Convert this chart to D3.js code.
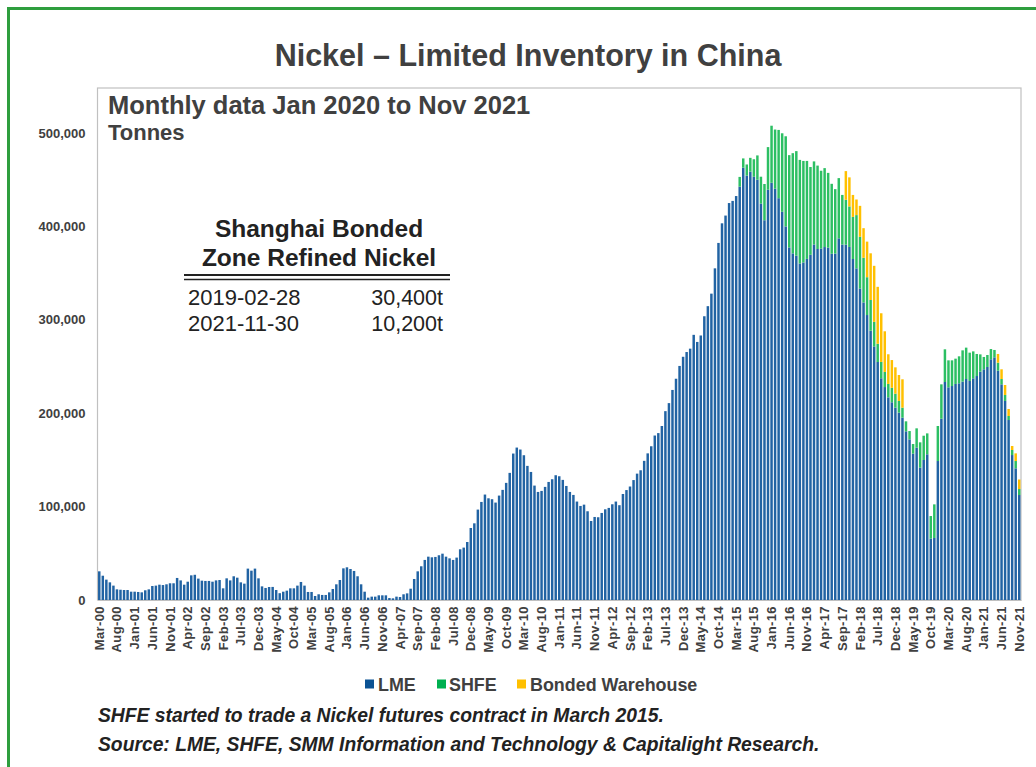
<!DOCTYPE html>
<html><head><meta charset="utf-8">
<script src="https://cdn.jsdelivr.net/npm/d3@7"></script>
<style>
body{margin:0;background:#fff}
svg{display:block}
text{font-family:"Liberation Sans",Arial,sans-serif}
</style>
</head><body>
<svg id="chart" width="1036" height="767"></svg>
<script>
// ---- categories: monthly, Mar-2000 .. Nov-2021 ----
const firstMonth = new Date(2000, 2, 1);
const endMonth = new Date(2021, 11, 1);
const categories = d3.timeMonth.range(firstMonth, endMonth).map(d3.timeFormat("%b-%y"));

const tickLabels = ["Mar-00","Aug-00","Jan-01","Jun-01","Nov-01","Apr-02","Sep-02","Feb-03","Jul-03","Dec-03",
"May-04","Oct-04","Mar-05","Aug-05","Jan-06","Jun-06","Nov-06","Apr-07","Sep-07","Feb-08","Jul-08","Dec-08",
"May-09","Oct-09","Mar-10","Aug-10","Jan-11","Jun-11","Nov-11","Apr-12","Sep-12","Feb-13","Jul-13","Dec-13",
"May-14","Oct-14","Mar-15","Aug-15","Jan-16","Jun-16","Nov-16","Apr-17","Sep-17","Feb-18","Jul-18","Dec-18",
"May-19","Oct-19","Mar-20","Aug-20","Jan-21","Jun-21","Nov-21"];

const yTicks = [0, 100000, 200000, 300000, 400000, 500000];

// LME stocks, tonnes (Mar-00 .. Nov-21)
const lme = [
30700,26000,21800,18900,15400,11400,11000,10700,10700,8900,8900,8600,8200,10400,11400,15000,15400,16400,16000,16800,
17900,17900,23600,21000,16400,19600,26400,27000,22900,20700,20400,20400,19600,21000,21400,12500,23200,21000,25400,23900,
18900,17500,33600,31400,33600,23200,14600,12900,13900,14000,10700,7300,8900,10000,12500,12500,15400,19300,15400,8600,
8600,4300,6100,5400,5400,8200,11800,16800,21400,33900,35000,33200,31100,25400,16800,8900,2500,3600,3600,5000,
5000,5000,2100,1800,3600,3200,6100,7100,12100,22500,30700,36100,42900,46400,45700,46100,47900,49600,46400,44600,
42900,45400,54300,56100,62100,77100,82100,96800,105000,112900,108900,107900,104300,111800,117900,125400,136100,156800,163200,161100,
155000,143600,137100,122500,115700,116800,121100,126400,129300,133600,132500,128600,122100,115700,112500,105400,100700,102100,95000,84600,
88900,88600,93200,97100,98600,102500,105400,101500,113500,117700,121500,128400,135300,138900,149000,157000,164600,176100,178700,186300,
202200,210800,224900,236900,250600,260400,265500,269100,283900,276300,283200,303800,314600,328000,355100,382300,403300,411600,425000,427300,
432500,442600,462900,454400,458600,453200,450000,424400,406600,439300,446700,440400,430200,415600,400000,377500,371100,368600,360300,361400,
365200,369600,380600,375800,376300,377900,377200,370700,370900,387200,380600,380400,378000,365100,355100,333500,318600,305100,288300,271500,
254800,237400,228000,217000,211700,205900,200600,195200,180600,172000,156700,163100,141700,149900,156000,65700,66400,148800,194100,233400,
227700,229100,231300,232000,233800,236600,234500,237300,239800,244500,247000,249500,257700,259800,245500,230900,213100,192700,155200,141000,
112400];

// SHFE stocks, tonnes, from Apr-15
const shfeFrom = "Apr-15";
const shfe = [
10400,9900,11900,14800,18700,26000,28800,38800,45600,61100,63300,73100,84100,96500,98800,107300,112000,110900,108700,104900,
94000,89000,89300,83300,84500,80100,74900,69000,64500,53100,48100,43400,45100,57000,55400,47800,40500,32900,26300,19500,
17500,16200,14300,15500,15000,12500,10700,10700,8900,10300,20700,27100,26000,22400,24200,36000,37500,36800,35000,28900,
27500,27100,28900,33500,33600,30300,28900,23600,18500,13200,12800,11000,7900,8600,5700,6400,4300,5400,7800,6400];

// Shanghai bonded warehouse stocks, tonnes, from Oct-17
const bondedFrom = "Oct-17";
const bonded = [
30700,31100,23500,16700,33100,31700,38100,50000,60000,61000,52100,43500,31800,29700,28200,27800,30400,0,0,0,
0,0,0,0,0,0,0,0,0,0,0,0,0,0,0,0,0,0,0,0,
0,0,0,9300,10400,10700,7500,4300,8200,10200];

const seriesNames = ["LME", "SHFE", "Bonded Warehouse"];
const colors = ["#0b5394", "#00b050", "#ffc000"];
const barColors = ["#2163a3", "#2cbf63", "#ffc000"];

const tableRows = [["2019-02-28", "30,400t"], ["2021-11-30", "10,200t"]];

// ---- build table ----
const iShfe = categories.indexOf(shfeFrom);
const iBond = categories.indexOf(bondedFrom);
const rows = categories.map((c, i) => ({
  month: c,
  "LME": lme[i] || 0,
  "SHFE": i >= iShfe ? (shfe[i - iShfe] || 0) : 0,
  "Bonded Warehouse": i >= iBond ? (bonded[i - iBond] || 0) : 0
}));
const stacked = d3.stack().keys(seriesNames)(rows);

const svg = d3.select("#chart");
const grey = "#404040";

// outer green frame
svg.append("rect").attr("x", 8.5).attr("y", 8.5).attr("width", 1100).attr("height", 900)
  .attr("fill", "none").attr("stroke", "#2e9e3e").attr("stroke-width", 3);

// title
svg.append("text").attr("x", 528).attr("y", 66).attr("text-anchor", "middle")
  .attr("font-size", 30.5).attr("font-weight", "bold").attr("fill", grey)
  .text("Nickel \u2013 Limited Inventory in China");

const pLeft = 97.5, pRight = 1021, pTop = 88, pBottom = 600;
const x = d3.scaleBand().domain(categories).range([pLeft, pRight]).paddingInner(0.3).paddingOuter(0.15);
const y = d3.scaleLinear().domain([0, 500000]).range([pBottom, 133]);

// plot box
svg.append("rect").attr("x", pLeft).attr("y", pTop).attr("width", pRight - pLeft).attr("height", pBottom - pTop)
  .attr("fill", "none").attr("stroke", "#c0c0c0").attr("stroke-width", 1.2);

// bars
svg.append("g").selectAll("g").data(stacked).join("g")
  .attr("fill", (d, i) => barColors[i])
  .selectAll("rect").data(d => d.filter(p => p[1] > p[0])).join("rect")
  .attr("x", d => x(d.data.month))
  .attr("width", x.bandwidth())
  .attr("y", d => y(d[1]))
  .attr("height", d => y(d[0]) - y(d[1]));

// y axis
const ya = svg.append("g").attr("transform", `translate(${pLeft},0)`)
  .call(d3.axisLeft(y).tickValues(yTicks).tickFormat(d3.format(",")).tickSize(0).tickPadding(12));
ya.select(".domain").remove();
ya.selectAll("text").attr("font-size", 13).attr("font-weight", "bold").attr("fill", grey)
  .attr("font-family", "'Liberation Sans',Arial,sans-serif");

// x axis
const xa = svg.append("g").attr("transform", `translate(0,${pBottom})`)
  .call(d3.axisBottom(x).tickValues(tickLabels).tickSize(0));
xa.select(".domain").attr("stroke", "#c0c0c0");
xa.selectAll("text").attr("font-size", 13).attr("font-weight", "bold").attr("fill", grey)
  .attr("letter-spacing", 0.4)
  .attr("font-family", "'Liberation Sans',Arial,sans-serif")
  .attr("text-anchor", "end").attr("dy", null).attr("dx", null)
  .attr("transform", "translate(0,6) rotate(-90)").attr("x", 0).attr("y", 4.5);

// subtitle
svg.append("text").attr("x", 108).attr("y", 114).attr("font-size", 25.5).attr("font-weight", "bold")
  .attr("fill", grey).text("Monthly data Jan 2020 to Nov 2021");
svg.append("text").attr("x", 108).attr("y", 140).attr("font-size", 22).attr("font-weight", "bold")
  .attr("fill", grey).text("Tonnes");

// inset table
const tg = svg.append("g");
tg.append("text").attr("x", 319).attr("y", 237).attr("text-anchor", "middle").attr("font-size", 24.5)
  .attr("font-weight", "bold").attr("fill", "#222").text("Shanghai Bonded");
tg.append("text").attr("x", 319).attr("y", 266).attr("text-anchor", "middle").attr("font-size", 24.5)
  .attr("font-weight", "bold").attr("fill", "#222").text("Zone Refined Nickel");
tg.append("line").attr("x1", 184).attr("x2", 450).attr("y1", 275).attr("y2", 275).attr("stroke", "#222").attr("stroke-width", 2);
tg.append("line").attr("x1", 184).attr("x2", 450).attr("y1", 279.5).attr("y2", 279.5).attr("stroke", "#222").attr("stroke-width", 1.5);
tableRows.forEach((r, i) => {
  tg.append("text").attr("x", 188).attr("y", 305 + i * 26).attr("font-size", 22).attr("fill", "#222").text(r[0]);
  tg.append("text").attr("x", 443).attr("y", 305 + i * 26).attr("text-anchor", "end").attr("font-size", 21.5).attr("fill", "#222").text(r[1]);
});

// legend
const legendSq = [365, 437, 517];
const legendTx = [378, 449, 530];
const lg = svg.append("g");
seriesNames.forEach((s, i) => {
  lg.append("rect").attr("x", legendSq[i]).attr("y", 679.5).attr("width", 9).attr("height", 9).attr("fill", colors[i]);
  lg.append("text").attr("x", legendTx[i]).attr("y", 690.5).attr("font-size", 17.9).attr("font-weight", "bold")
    .attr("fill", grey).text(s);
});

// notes
svg.append("text").attr("x", 98).attr("y", 722).attr("font-size", 19.3).attr("font-weight", "bold")
  .attr("font-style", "italic").attr("fill", "#222").text("SHFE started to trade a Nickel futures contract in March 2015.");
svg.append("text").attr("x", 98).attr("y", 751).attr("font-size", 19.3).attr("font-weight", "bold")
  .attr("font-style", "italic").attr("fill", "#222").text("Source: LME, SHFE, SMM Information and Technology & Capitalight Research.");
</script>
</body></html>
